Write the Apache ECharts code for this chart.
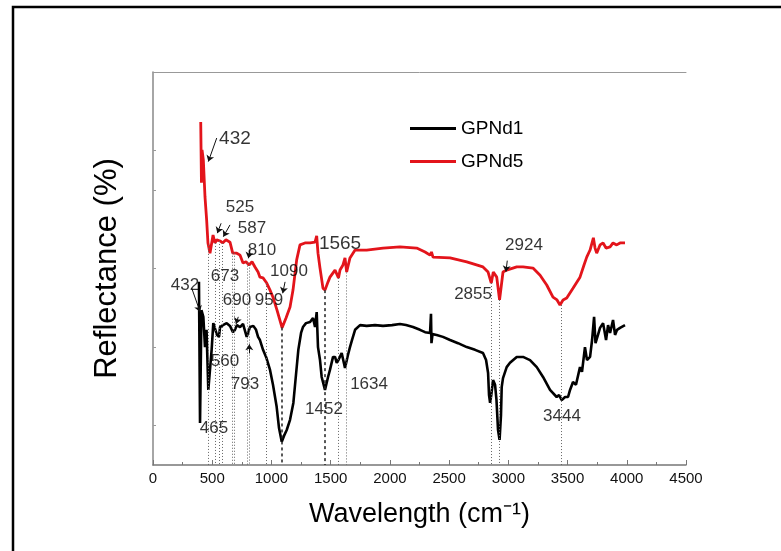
<!DOCTYPE html>
<html>
<head>
<meta charset="utf-8">
<script src="https://cdn.jsdelivr.net/npm/echarts@6/dist/echarts.min.js"></script>
<style>
html, body { margin: 0; padding: 0; background: #fff; }
#main { width: 781px; height: 551px; }
</style>
</head>
<body>
<div id="main"></div>
<script>
// GPNd1 (black) spectrum, wavenumber and reflectance
var wnBlack = [388, 397, 409, 425, 439, 452, 467, 481, 495, 509, 523, 540, 557, 566, 591, 622, 650, 675, 692, 709, 735, 760, 791, 819, 847, 870, 887, 903, 929, 958, 988, 1013, 1044, 1064, 1087, 1106, 1129, 1157, 1185, 1207, 1227, 1250, 1266, 1292, 1326, 1351, 1368, 1382, 1393, 1410, 1424, 1452, 1478, 1494, 1520, 1537, 1551, 1566, 1593, 1608, 1621, 1635, 1646, 1663, 1680, 1706, 1748, 1804, 1874, 1942, 2018, 2085, 2136, 2195, 2254, 2297, 2339, 2347, 2351, 2360, 2395, 2448, 2508, 2575, 2649, 2719, 2786, 2812, 2829, 2837, 2846, 2856, 2871, 2888, 2900, 2913, 2926, 2938, 2944, 2955, 2986, 3014, 3071, 3124, 3183, 3240, 3293, 3352, 3408, 3428, 3451, 3479, 3504, 3521, 3546, 3571, 3605, 3622, 3647, 3664, 3690, 3707, 3724, 3736, 3757, 3774, 3800, 3825, 3842, 3859, 3884, 3901, 3918, 3943, 3985];
var refBlack = [46.6, 10.7, 39.4, 37.7, 30.0, 34.4, 19.1, 24.2, 29.3, 36.1, 35.6, 33.1, 32.6, 35.1, 35.6, 36.1, 35.4, 33.8, 34.4, 35.6, 35.1, 35.9, 32.6, 35.1, 35.4, 34.4, 32.6, 31.8, 29.3, 27.2, 24.2, 20.4, 14.8, 9.4, 5.9, 7.4, 8.9, 11.5, 15.8, 22.9, 29.3, 33.6, 35.1, 36.1, 36.4, 37.4, 35.1, 38.9, 30.0, 26.7, 22.4, 19.1, 22.4, 24.2, 27.5, 27.5, 26.0, 26.7, 28.5, 28.8, 24.7, 24.2, 28.0, 30.0, 31.8, 34.4, 35.6, 35.4, 35.6, 35.4, 35.6, 35.9, 35.6, 35.1, 34.4, 33.8, 33.6, 38.5, 31.0, 33.3, 33.1, 32.6, 31.8, 31.0, 30.0, 29.3, 28.5, 26.7, 23.4, 17.8, 15.8, 17.8, 21.6, 20.4, 16.5, 8.9, 6.4, 12.7, 19.8, 22.1, 24.9, 26.0, 27.5, 27.5, 26.7, 24.9, 22.4, 19.1, 17.3, 17.8, 16.5, 17.3, 17.3, 19.1, 21.1, 20.4, 24.9, 23.7, 30.0, 26.7, 27.5, 31.8, 37.7, 31.0, 33.1, 34.9, 36.1, 31.8, 35.6, 33.6, 36.9, 33.1, 34.4, 34.9, 35.6];

// GPNd5 (red) spectrum
var wnRed = [403, 409, 414, 425, 439, 453, 464, 481, 507, 523, 538, 566, 588, 616, 650, 673, 707, 735, 760, 785, 811, 836, 861, 887, 903, 929, 960, 988, 1013, 1047, 1090, 1123, 1157, 1182, 1213, 1241, 1283, 1326, 1368, 1382, 1393, 1410, 1435, 1452, 1478, 1494, 1537, 1566, 1579, 1604, 1621, 1635, 1663, 1706, 1804, 1942, 2085, 2226, 2297, 2339, 2351, 2364, 2508, 2649, 2786, 2829, 2856, 2873, 2902, 2926, 2955, 2986, 3071, 3124, 3208, 3268, 3324, 3377, 3411, 3436, 3462, 3493, 3546, 3605, 3639, 3662, 3690, 3718, 3732, 3746, 3774, 3800, 3825, 3859, 3884, 3915, 3943, 3985];
var refRed = [87.3, 71.8, 80.2, 77.6, 68.2, 62.3, 56.5, 53.9, 58.5, 56.5, 57.3, 57.0, 56.5, 57.3, 56.7, 53.9, 53.9, 53.4, 51.4, 51.7, 50.9, 51.7, 50.4, 49.1, 47.8, 47.6, 46.3, 44.5, 42.7, 39.4, 34.9, 37.4, 40.2, 44.5, 52.2, 56.0, 56.5, 56.5, 56.7, 58.3, 53.9, 50.1, 45.0, 44.5, 46.6, 47.8, 49.6, 47.6, 49.6, 50.9, 52.7, 49.1, 52.7, 54.7, 54.7, 55.2, 55.5, 55.2, 54.2, 53.4, 54.2, 52.9, 52.7, 51.7, 50.4, 49.1, 46.3, 49.1, 47.8, 42.0, 49.1, 49.6, 50.4, 50.4, 50.1, 48.3, 45.8, 42.7, 42.0, 40.7, 42.0, 42.5, 45.0, 47.8, 50.9, 52.9, 54.7, 57.8, 55.2, 53.9, 56.0, 56.5, 55.2, 55.5, 56.5, 56.0, 56.5, 56.5];

// peak guide lines: position and where the line starts
var peakWn = [465, 525, 560, 587, 673, 690, 793, 810, 959, 1090, 1452, 1565, 1634, 2855, 2924, 3444];
var peakTop = [56, 56.5, 57, 56.5, 54, 54, 51.5, 51, 46.3, 35, 44.5, 47.6, 49, 46.3, 42, 40.7];
var boldPeaks = [1090, 1452];

// annotation labels [wavenumber, reflectance, text]
var notes = [
    [692, 83.0, "432"], [735, 65.6, "525"], [836, 60.1, "587"], [920, 54.7, "810"],
    [1148, 49.4, "1090"], [608, 48.1, "673"], [709, 42.0, "690"], [979, 42.0, "959"],
    [608, 26.5, "560"], [777, 20.6, "793"], [515, 9.4, "465"], [1444, 14.2, "1452"],
    [1824, 20.6, "1634"], [1579, 56.2, "1565"], [2702, 43.5, "2855"], [3132, 56.0, "2924"],
    [3453, 12.5, "3444"], [270, 45.8, "432"]
];

// arrows [fromWn, fromRef, toWn, toRef]
var arrows = [
    [538, 83.2, 467, 77.2], [575, 61.5, 543, 59.0], [650, 61.1, 594, 58.1],
    [819, 54.7, 805, 52.6], [1115, 46.6, 1095, 43.7], [720, 37.7, 701, 35.9],
    [813, 28.4, 813, 30.7], [2991, 52.0, 2980, 49.2], [327, 45.0, 397, 39.0]
];

var yTicks = [10, 30, 50, 70, 80];

var myChart = echarts.init(document.getElementById("main"));

var toPairs = function (xs, ys) {
    return xs.map(function (x, i) { return [x, ys[i]]; });
};

var option = {
    animation: false,
    textStyle: { fontFamily: "Liberation Sans, Arial, sans-serif" },
    graphic: [{
        type: "rect",
        shape: { x: 13, y: 7, width: 820, height: 600 },
        style: { fill: "none", stroke: "#000", lineWidth: 2.5 },
        silent: true
    }],
    grid: { left: 153, right: 95, top: 72, bottom: 86 },
    legend: {
        data: ["GPNd1", "GPNd5"],
        orient: "vertical",
        left: 405,
        top: 114,
        icon: "rect",
        itemWidth: 46,
        itemHeight: 3,
        itemGap: 14,
        textStyle: { fontSize: 19, color: "#000" }
    },
    xAxis: [{
        type: "value",
        min: 0,
        max: 4500,
        interval: 500,
        name: "Wavelength (cm\u207B\u00B9)",
        nameLocation: "middle",
        nameGap: 36,
        nameTextStyle: { fontSize: 27, color: "#000" },
        axisLine: { lineStyle: { color: "#777", width: 1.5 } },
        axisTick: { inside: true, length: 5, lineStyle: { color: "#777" } },
        minorTick: { show: true, splitNumber: 2, length: 3, lineStyle: { color: "#777" } },
        axisLabel: {
            fontSize: 15,
            color: "#111",
            margin: 6,
            formatter: function (v) { return String(v); }
        },
        splitLine: { show: false }
    }, {
        type: "value",
        position: "top",
        min: 0,
        max: 4500,
        axisLine: { show: true, lineStyle: { color: "#999" } },
        axisTick: { show: false },
        axisLabel: { show: false },
        splitLine: { show: false }
    }],
    yAxis: {
        type: "value",
        min: 0,
        max: 100,
        name: "Reflectance (%)",
        nameLocation: "middle",
        nameGap: 30,
        nameTextStyle: { fontSize: 31, color: "#000" },
        axisLine: { show: true, lineStyle: { color: "#888", width: 1.5 } },
        axisTick: { show: true, inside: true, length: 3, customValues: yTicks, lineStyle: { color: "#999" } },
        axisLabel: { show: false },
        splitLine: { show: false }
    },
    series: [{
        name: "peaks",
        type: "line",
        data: [],
        z: 1,
        silent: true,
        markLine: {
            silent: true,
            symbol: ["none", "none"],
            label: { show: false },
            data: peakWn.map(function (w, i) {
                var bold = boldPeaks.indexOf(w) >= 0;
                return [{
                    coord: [w, peakTop[i]],
                    lineStyle: {
                        type: bold ? [3, 3] : [1, 2],
                        width: bold ? 1.5 : 1,
                        color: bold ? "#222" : "#666"
                    }
                }, { coord: [w, 0] }];
            })
        }
    }, {
        name: "GPNd1",
        type: "line",
        data: toPairs(wnBlack, refBlack),
        showSymbol: false,
        symbol: "none",
        z: 3,
        lineStyle: { color: "#000", width: 2.6 },
        itemStyle: { color: "#000" }
    }, {
        name: "GPNd5",
        type: "line",
        data: toPairs(wnRed, refRed),
        showSymbol: false,
        symbol: "none",
        z: 3,
        lineStyle: { color: "#e3141b", width: 2.8 },
        itemStyle: { color: "#e3141b" }
    }, {
        name: "arrows",
        type: "line",
        data: [],
        z: 4,
        silent: true,
        markLine: {
            silent: true,
            symbol: ["none", "arrow"],
            symbolSize: 6,
            label: { show: false },
            lineStyle: { type: "solid", color: "#111", width: 1 },
            data: arrows.map(function (a) {
                return [{ coord: [a[0], a[1]] }, { coord: [a[2], a[3]] }];
            })
        }
    }, {
        name: "notes",
        type: "scatter",
        symbol: "circle",
        symbolSize: 0,
        z: 5,
        silent: true,
        itemStyle: { color: "#000" },
        label: {
            show: true,
            position: "inside",
            color: "#000",
            textBorderWidth: 0,
            fontSize: 17,
            formatter: function (p) { return p.value[2]; }
        },
        data: notes.map(function (n) {
            var big = n[2] === "1565" || (n[2] === "432" && n[1] > 60);
            return { value: n, label: { fontSize: big ? 19 : 17, color: "#000", textBorderWidth: 0 } };
        })
    }]
};
myChart.setOption(option);
</script>
</body>
</html>
